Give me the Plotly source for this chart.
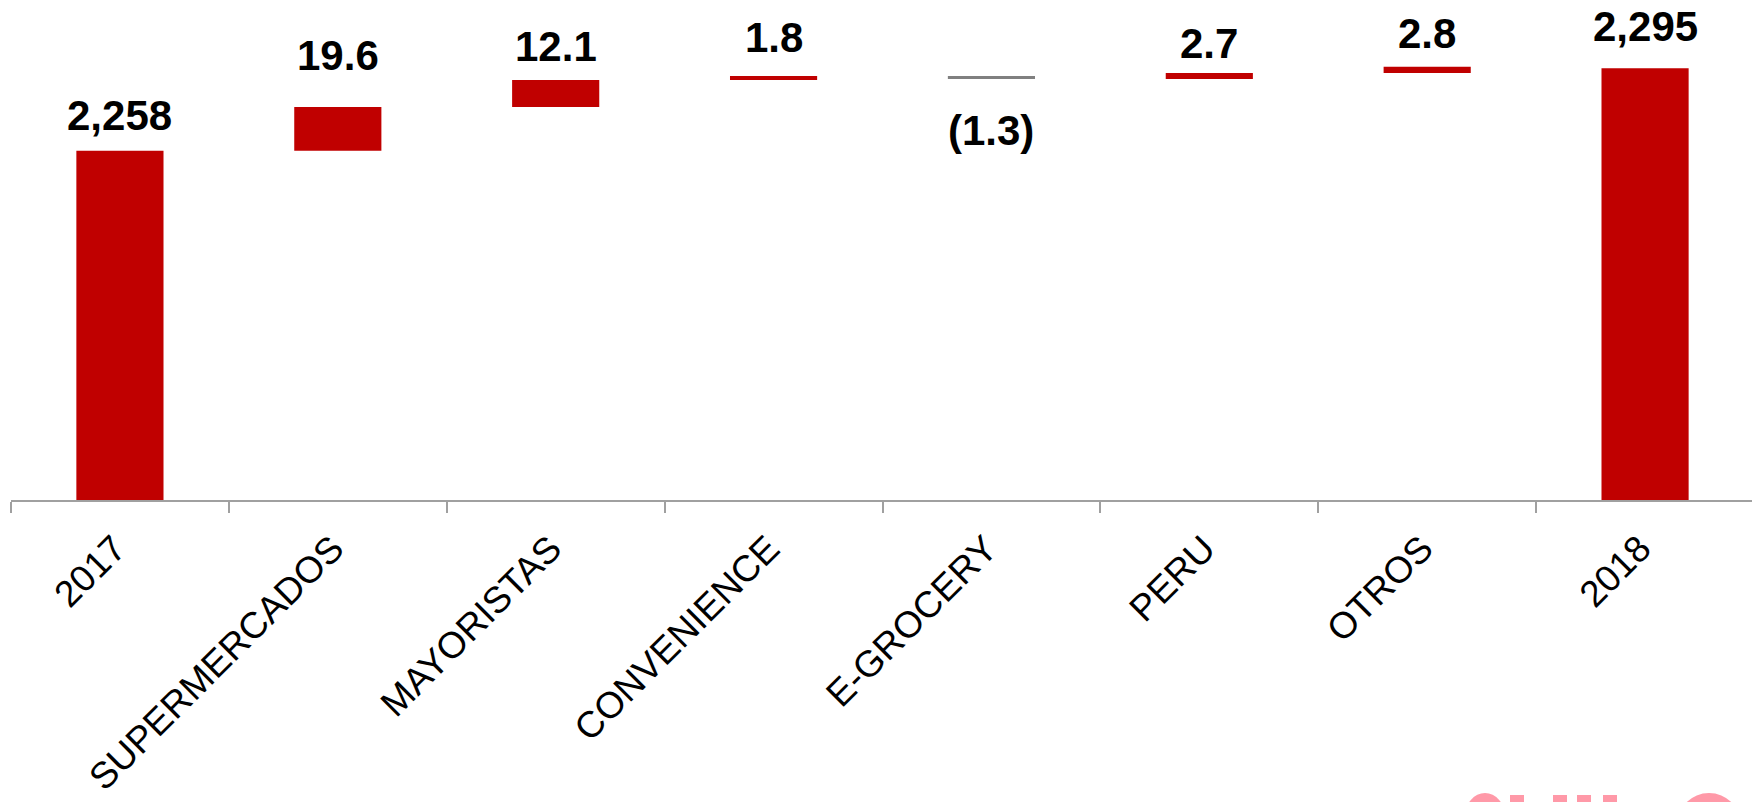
import plotly.graph_objects as go

# ---- data ----
categories = ["2017", "SUPERMERCADOS", "MAYORISTAS", "CONVENIENCE", "E-GROCERY", "PERU", "OTROS", "2018"]
values = [2258, 19.6, 12.1, 1.8, -1.3, 2.7, 2.8, 2295]
measures = ["absolute", "relative", "relative", "relative", "relative", "relative", "relative", "absolute"]
value_labels = ["2,258", "19.6", "12.1", "1.8", "(1.3)", "2.7", "2.8", "2,295"]

# ---- styles ----
RED = "#C00000"
GRAY = "#808080"
AXIS = "#A0A0A0"
PINK = "#FF99A8"
FONT = "Liberation Sans, Arial, sans-serif"
label_gaps = [10, 26, 8, 13, 26, 4, 8, 16]  # pixel offsets of value labels from bar ends

OFF = 8                       # default page body margin
W, H = 1760 - OFF, 802 - OFF
ML, MR, MT, MB = 11 - OFF, 6, 0, 302
PLOT_H = H - MT - MB
PLOT_W = W - ML - MR
PX_PER_UNIT = 2.23
YMIN = 2101.4
YMAX = YMIN + PLOT_H / PX_PER_UNIT

fig = go.Figure()
fig.add_trace(go.Waterfall(
    x=categories,
    y=values,
    measure=measures,
    width=0.4,
    increasing=dict(marker=dict(color=RED)),
    decreasing=dict(marker=dict(color=GRAY)),
    totals=dict(marker=dict(color=RED)),
    connector=dict(visible=False),
    hoverinfo="x+y",
))

# value labels at bar ends (computed from the cumulative data)
running = 0.0
for i, (v, m, lab, gap) in enumerate(zip(values, measures, value_labels, label_gaps)):
    if m == "absolute":
        start, end = 0.0, v
        running = v
    else:
        start, end = running, running + v
        running = end
    if v >= 0:
        fig.add_annotation(x=i, y=max(start, end), text=f"<b>{lab}</b>", showarrow=False,
                           xref="x", yref="y", yanchor="bottom", yshift=gap,
                           font=dict(family=FONT, size=42, color="black"))
    else:
        fig.add_annotation(x=i, y=min(start, end), text=f"<b>{lab}</b>", showarrow=False,
                           xref="x", yref="y", yanchor="top", yshift=-gap,
                           font=dict(family=FONT, size=42, color="black"))


# partial pink logo at bottom right (only its top edge is visible)
def px(xp):
    return (xp - OFF - ML) / PLOT_W


def py(yp):
    return (PLOT_H + MT - (yp - OFF)) / PLOT_H


logo_parts = [
    ("circle", 1465, 793, 1505, 840),   # S top
    ("rect", 1510, 795, 1524, 830),     # M left stem
    ("rect", 1553, 795, 1567, 830),     # M right stem
    ("rect", 1577, 795, 1591, 830),     # U left stem
    ("rect", 1603, 795, 1617, 830),     # U right stem
    ("circle", 1677, 793, 1741, 857),   # round mark
]
for kind, x0, y0, x1, y1 in logo_parts:
    fig.add_shape(type=kind, xref="paper", yref="paper",
                  x0=px(x0), x1=px(x1), y0=py(y0), y1=py(y1),
                  fillcolor=PINK, line=dict(width=0), layer="above")

fig.update_layout(
    width=W, height=H,
    margin=dict(l=ML, r=MR, t=MT, b=MB, pad=0),
    paper_bgcolor="white", plot_bgcolor="white",
    showlegend=False,
    font=dict(family=FONT, color="black"),
    xaxis=dict(
        type="category", range=[-0.5, len(categories) - 0.5],
        showline=True, linecolor=AXIS, linewidth=2,
        ticks="outside", tickson="boundaries", ticklen=11, tickwidth=2, tickcolor=AXIS,
        tickangle=-45, tickfont=dict(family=FONT, size=37, color="black"),
        ticklabelstandoff=10, ticklabelshift=-5,
        showgrid=False, zeroline=False,
    ),
    yaxis=dict(visible=False, range=[YMIN, YMAX], showgrid=False, zeroline=False),
)

fig.write_html("out.html")
